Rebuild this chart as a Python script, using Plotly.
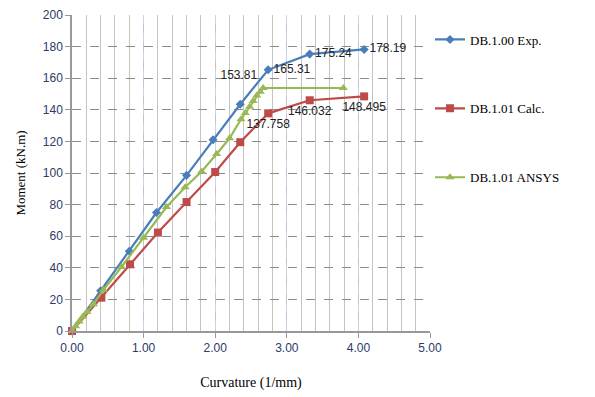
import plotly.graph_objects as go

# Data
exp_x = [0, 0.40, 0.80, 1.18, 1.60, 1.97, 2.35, 2.74, 3.32, 4.08]
exp_y = [0, 25.5, 50.5, 75.0, 98.5, 121.0, 143.5, 165.31, 175.24, 178.19]
exp_lbl = ["", "", "", "", "", "", "", "165.31", "175.24", "178.19"]

calc_x = [0, 0.41, 0.81, 1.20, 1.60, 2.00, 2.35, 2.74, 3.32, 4.08]
calc_y = [0, 21.1, 42.2, 62.3, 81.6, 100.6, 119.5, 137.758, 146.032, 148.495]
calc_lbl = ["", "", "", "", "", "", "", "137.758", "146.032", "148.495"]

ansys_x = [0, 0.05, 0.10, 0.15, 0.21, 0.30, 0.44, 0.69, 1.00, 1.32, 1.58, 1.81,
           2.02, 2.20, 2.36, 2.42, 2.48, 2.53, 2.58, 2.63, 2.67, 3.79]
ansys_y = [0, 3, 6, 9, 12, 17, 26, 40.5, 59, 78.5, 91, 101,
           112, 122, 134, 138, 142, 145.5, 149, 151.5, 153.81, 153.81]
ansys_lbl = [""] * 20 + ["153.81", ""]

x_ticks = [0, 1, 2, 3, 4, 5]
x_tick_text = ["0.00", "1.00", "2.00", "3.00", "4.00", "5.00"]
y_ticks = [0, 20, 40, 60, 80, 100, 120, 140, 160, 180, 200]

lbl_font = dict(family="Liberation Sans, Arial", size=12, color="#222222")

fig = go.Figure()
fig.add_trace(go.Scatter(
    x=exp_x, y=exp_y, mode="lines+markers+text", name="DB.1.00 Exp.",
    text=exp_lbl, textposition="middle right", textfont=lbl_font,
    line=dict(color="#4a7ebb", width=2.2),
    marker=dict(symbol="diamond", size=7, color="#4a7ebb"),
    legendgroup="a", cliponaxis=False))
fig.add_trace(go.Scatter(
    x=calc_x, y=calc_y, mode="lines+markers+text", name="DB.1.01 Calc.",
    text=calc_lbl, textposition="bottom center", textfont=lbl_font,
    line=dict(color="#be4b48", width=2.2),
    marker=dict(symbol="square", size=8, color="#be4b48"),
    legendgroup="b", cliponaxis=False))
fig.add_trace(go.Scatter(
    x=ansys_x, y=ansys_y, mode="lines+markers+text", name="DB.1.01 ANSYS",
    text=ansys_lbl, textposition="top left", textfont=lbl_font,
    line=dict(color="#98b954", width=2.2),
    marker=dict(symbol="triangle-up", size=8, color="#98b954"),
    legendgroup="c", cliponaxis=False))

fig.update_layout(
    width=595, height=397,
    margin=dict(l=64, r=173, t=7, b=74, autoexpand=False),
    paper_bgcolor="white", plot_bgcolor="white",
    font=dict(family="Liberation Serif, Times New Roman", size=13, color="black"),
    legend=dict(x=1.0, y=0.97, xanchor="left", yanchor="top",
                font=dict(family="Liberation Serif, Times New Roman", size=13, color="black"),
                tracegroupgap=49, bgcolor="rgba(0,0,0,0)"),
    showlegend=True,
)
fig.update_xaxes(
    range=[0, 5], tickvals=x_ticks, ticktext=x_tick_text,
    tickfont=dict(family="Liberation Sans, Arial", size=12, color="#2b3a67"),
    showline=True, linecolor="#999999", linewidth=1.5,
    ticks="outside", ticklen=5, tickcolor="#999999",
    showgrid=True, gridcolor="#c6d6ef", griddash="dash", gridwidth=1,
    minor=dict(dtick=0.2, showgrid=True, gridcolor="#c4c4c4", griddash="solid", gridwidth=1.3),
    zeroline=False, automargin=False,
    title=dict(text="Curvature (1/mm)", font=dict(family="Liberation Serif, Times New Roman", size=14), standoff=23),
)
fig.update_yaxes(
    range=[0, 200], tickvals=y_ticks,
    tickfont=dict(family="Liberation Sans, Arial", size=12, color="#2b3a67"),
    showline=True, linecolor="#999999", linewidth=1.5,
    ticks="outside", ticklen=5, tickcolor="#999999",
    showgrid=True, gridcolor="#8c8c8c", griddash="dash", gridwidth=1.2,
    zeroline=False, automargin=False,
    title=dict(text="Moment (kN.m)", font=dict(family="Liberation Serif, Times New Roman", size=13), standoff=14),
)

fig.write_html("out.html")
